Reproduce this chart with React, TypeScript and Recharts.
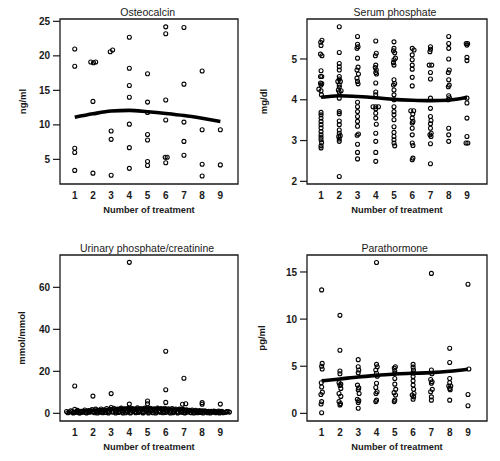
import React from 'react';
import { ComposedChart, Scatter, Line, XAxis, YAxis, ReferenceArea } from 'recharts';

type Pt = [number, number];

const treatments = [1, 2, 3, 4, 5, 6, 7, 8, 9];
const xAxisTitle = 'Number of treatment';

// ---- Osteocalcin (ng/ml)
const osteoTitle = 'Osteocalcin';
const osteoUnit = 'ng/ml';
const osteoTicks = [5, 10, 15, 20, 25];
const osteoPoints: Pt[] = [
  [1, 21.0], [1, 18.5], [1, 6.6], [1, 6.0], [1, 3.4],
  [1.88, 19.1], [2.03, 19.0], [2.15, 19.1], [2, 13.4], [2, 3.0],
  [2.95, 20.6], [3.08, 20.85], [3, 9.1], [3, 7.9], [3, 2.7],
  [4, 22.7], [4, 18.2], [4, 15.7], [4, 14.0], [4, 10.1], [4, 6.7], [4, 3.7],
  [5, 17.4], [5, 13.3], [5, 11.8], [5, 8.6], [5, 7.8], [5, 4.7], [5, 4.1],
  [6, 24.2], [6, 23.2], [6, 13.6], [6, 10.7], [5.97, 5.3], [6.08, 5.3], [6, 4.5],
  [7, 24.1], [7, 15.9], [7, 10.4], [7, 7.6], [7, 5.6],
  [8, 17.8], [8, 9.3], [8, 4.3], [8, 2.6],
  [9, 9.3], [9, 4.2],
];
const osteoTrend = [11.1, 11.6, 12.0, 12.1, 11.9, 11.65, 11.35, 10.95, 10.5];

// ---- Serum phosphate (mg/dl)
const serumTitle = 'Serum phosphate';
const serumUnit = 'mg/dl';
const serumTicks = [2, 3, 4, 5];
const serumPoints: Pt[] = [
  [1.05, 5.46], [0.98, 5.41], [1, 5.33], [0.97, 5.12], [1.05, 5.08], [1, 4.71], [0.97, 4.57], [1.04, 4.57],
  [0.97, 4.41], [1.04, 4.40], [1, 4.36], [0.88, 4.26], [1, 4.22], [1.02, 4.12],
  [1, 3.69], [1, 3.63], [1, 3.55], [1, 3.47], [1, 3.39], [1, 3.31], [1, 3.22], [1, 3.14], [1, 3.08],
  [1, 3.02], [1.03, 2.95], [1, 2.87], [1, 2.82],
  [2, 5.79], [2, 5.16], [2, 4.89], [2, 4.81], [2, 4.73], [2, 4.57], [2, 4.51], [1.92, 4.45], [2.06, 4.45],
  [2, 4.36], [2, 4.31], [1.95, 4.24], [2.1, 4.22], [2, 4.19], [2, 4.04], [2, 3.71], [2, 3.66], [2, 3.48],
  [2, 3.39], [2, 3.26], [2, 3.18], [2.05, 3.12], [1.97, 3.10], [2, 3.04], [2, 2.98], [2, 2.12],
  [3, 5.55], [3, 5.36], [3.03, 5.30], [2.97, 5.26], [3, 5.02], [3.03, 4.80], [2.97, 4.73], [3.05, 4.63],
  [2.97, 4.53], [3, 4.45], [3.03, 4.39], [3, 3.94], [3, 3.83], [3, 3.71], [3, 3.59], [3, 3.47], [3, 3.35],
  [3.05, 3.16], [2.98, 3.13], [3, 2.91], [3, 2.71], [3, 2.55],
  [4, 5.44], [4.03, 5.14], [3.98, 5.08], [4, 4.85], [3.97, 4.79], [4.03, 4.73], [4, 4.67], [4.04, 4.63],
  [4, 4.41], [4, 4.19], [4, 4.12], [3.85, 3.83], [4, 3.83], [4.15, 3.83], [4, 3.78], [4, 3.67], [4, 3.55],
  [4.03, 3.40], [4, 3.18], [4, 2.98], [4, 2.71], [4, 2.49],
  [5, 5.42], [5, 5.26], [4.97, 5.20], [5.04, 5.15], [5.08, 5.02], [5, 4.98], [4.97, 4.91], [5, 4.85],
  [5, 4.49], [5.04, 4.40], [4.97, 4.36], [5, 4.24], [5, 4.12], [5, 4.0], [5, 3.83], [5, 3.71], [5, 3.63],
  [5, 3.51], [5, 3.34], [5, 3.20], [5, 3.10], [5, 3.02], [5, 2.94], [5.04, 2.87],
  [6, 5.26], [6.1, 5.22], [6, 5.10], [6, 4.98], [6, 4.85], [6, 4.75], [6, 4.55], [6, 4.34], [5.92, 3.73],
  [6.08, 3.73], [6.03, 3.65], [6, 3.55], [6.04, 3.47], [6, 3.43], [6, 3.30], [6, 3.14], [6, 2.94], [6.04, 2.88],
  [6.04, 2.57], [6, 2.53],
  [7, 5.30], [7, 5.24], [6.97, 5.18], [6.93, 4.85], [7.07, 4.85], [7, 4.67], [7, 4.51], [7, 4.04], [7, 3.79],
  [7, 3.59], [7.03, 3.49], [7, 3.41], [7, 3.30], [7.04, 3.18], [6.97, 3.14], [7.03, 3.10], [7, 2.92], [7, 2.43],
  [8, 5.55], [8, 5.38], [8, 5.26], [8, 5.0], [8.03, 4.73], [7.98, 4.67], [8, 4.49], [8.03, 4.36], [7.98, 4.32],
  [8, 4.10], [8.04, 4.05], [7.97, 4.0], [8, 3.30], [8, 3.14], [8, 2.98],
  [8.96, 5.38], [9.04, 5.38], [9, 5.34], [9, 5.04], [9, 4.96], [9, 4.04], [9, 3.92], [9, 3.55], [9, 3.10],
  [8.95, 2.94], [9.05, 2.94],
];
const serumTrend = [4.06, 4.10, 4.08, 4.05, 4.01, 3.99, 3.98, 3.99, 4.06];

// ---- Urinary phosphate/creatinine (mmol/mmol)
const urinaryTitle = 'Urinary phosphate/creatinine';
const urinaryUnit = 'mmol/mmol';
const urinaryTicks = [0, 20, 40, 60];
const urinaryOutliers: Pt[] = [
  [1, 13.0], [1, 1.9], [2, 8.2], [3, 9.4], [3, 2.8], [4, 71.9], [4, 4.4], [5, 5.9], [5, 4.6],
  [6, 29.6], [6, 11.2], [6, 5.2], [7, 16.7], [6.92, 4.3], [7.1, 4.6], [8, 5.1], [8, 4.3], [9, 4.4],
];
const urinaryLowA: Pt[] = [
  [0.55, 0.9], [0.7, 0.6], [0.85, 0.8], [0.95, 0.4], [1.1, 0.5], [1.2, 0.9], [1.3, 0.3], [1.4, 0.7],
  [1.5, 1.1], [1.6, 0.4], [1.7, 0.8], [1.8, 0.5], [1.9, 1.2], [2.0, 0.6], [2.1, 0.3], [2.2, 0.9],
  [2.3, 1.4], [2.4, 0.5], [2.5, 0.8], [2.6, 1.6], [2.7, 0.4], [2.8, 1.0], [2.9, 0.7], [3.1, 0.5],
  [3.2, 1.3], [3.3, 0.9], [3.4, 0.4], [3.5, 1.7], [3.6, 0.6], [3.7, 1.1], [3.8, 0.3], [3.9, 0.8],
  [4.0, 1.5], [4.1, 0.5], [4.2, 1.0], [4.3, 0.7], [4.4, 1.9], [4.5, 0.4], [4.6, 1.2], [4.7, 0.8],
  [4.8, 0.5], [4.9, 1.6], [5.0, 2.2], [5.1, 0.6], [5.2, 1.0], [5.3, 0.3], [5.4, 1.4], [5.5, 0.7],
  [5.6, 1.1], [5.7, 0.5], [5.8, 1.8], [5.9, 0.9], [6.0, 0.4], [6.1, 1.3], [6.2, 0.6], [6.3, 1.0],
  [6.4, 0.3], [6.5, 1.5], [6.6, 0.7], [6.7, 0.5], [6.8, 1.2], [6.9, 0.8], [7.0, 0.4], [7.1, 1.0],
  [7.2, 0.6], [7.3, 1.4], [7.4, 0.3], [7.5, 0.9], [7.6, 0.5], [7.7, 1.1], [7.8, 0.7], [7.9, 0.4],
  [8.0, 1.2], [8.1, 0.6], [8.2, 0.9], [8.3, 0.3], [8.4, 0.7], [8.5, 1.0], [8.6, 0.5], [8.7, 0.8],
  [8.8, 0.4], [8.9, 1.1], [9.0, 0.6], [9.1, 0.9], [9.2, 0.4], [9.35, 0.8], [9.5, 0.6],
];
const urinaryLowB: Pt[] = [
  [0.62, 0.3], [0.78, 1.2], [0.92, 0.2], [1.02, 0.6], [1.15, 1.4], [1.25, 0.2], [1.35, 1.0], [1.45, 0.5],
  [1.55, 1.6], [1.65, 0.2], [1.75, 1.3], [1.85, 0.8], [1.95, 1.8], [2.05, 1.0], [2.15, 2.0], [2.25, 0.2],
  [2.35, 0.7], [2.45, 2.1], [2.55, 0.3], [2.65, 1.2], [2.75, 2.3], [2.85, 0.2], [2.95, 1.9], [3.05, 1.0],
  [3.15, 2.4], [3.25, 0.2], [3.35, 2.0], [3.45, 0.8], [3.55, 2.5], [3.65, 0.2], [3.75, 2.2], [3.85, 1.2],
  [3.95, 2.5], [4.05, 0.2], [4.15, 2.3], [4.25, 1.6], [4.35, 0.3], [4.45, 2.6], [4.55, 0.9], [4.65, 2.2],
  [4.75, 0.2], [4.85, 2.5], [4.95, 1.0], [5.05, 0.2], [5.15, 2.4], [5.25, 1.5], [5.35, 2.1], [5.45, 0.2],
  [5.55, 2.5], [5.65, 0.8], [5.75, 2.3], [5.85, 0.3], [5.95, 2.4], [6.05, 1.0], [6.15, 2.2], [6.25, 0.2],
  [6.35, 2.3], [6.45, 0.9], [6.55, 2.1], [6.65, 0.2], [6.75, 2.0], [6.85, 0.5], [6.95, 1.9], [7.05, 0.2],
  [7.15, 1.7], [7.25, 1.0], [7.35, 0.5], [7.45, 1.6], [7.55, 0.2], [7.65, 1.5], [7.75, 0.3], [7.85, 1.3],
  [7.95, 0.8], [8.05, 0.2], [8.15, 1.2], [8.25, 0.6], [8.35, 1.0], [8.45, 0.2], [8.55, 0.8], [8.65, 1.1],
  [8.75, 0.3], [8.85, 0.7], [8.95, 0.2], [9.05, 1.0], [9.15, 0.3], [9.3, 0.5], [9.42, 0.9],
];
const urinaryPoints: Pt[] = [...urinaryOutliers, ...urinaryLowA, ...urinaryLowB];
const urinaryTrend = [0.9, 1.5, 2.1, 2.4, 2.4, 2.2, 1.8, 1.2, 0.8];

// ---- Parathormone (pg/ml)
const pthTitle = 'Parathormone';
const pthUnit = 'pg/ml';
const pthTicks = [0, 5, 10, 15];
const pthPoints: Pt[] = [
  [1, 13.1], [1.03, 5.3], [1, 5.0], [1.03, 4.7], [0.98, 3.25], [1, 2.8], [1.04, 2.25], [0.96, 2.0],
  [1, 1.25], [0.97, 1.0], [1, 0.07],
  [2, 10.4], [2, 6.7], [2, 4.5], [2, 4.2], [1.95, 3.25], [2.05, 3.1], [2, 2.95], [2.05, 2.65], [1.95, 2.1],
  [2.05, 1.8], [1.95, 1.25], [2.03, 1.05], [2, 0.9],
  [3, 5.7], [3, 4.95], [3.03, 4.6], [3, 4.3], [2.96, 3.0], [3.03, 2.7], [3, 2.5], [3.05, 2.1], [2.95, 1.5],
  [3.03, 1.35], [3, 1.15], [3, 0.55],
  [4, 16.0], [4, 5.2], [4.04, 4.95], [3.96, 4.6], [4, 4.25], [4.04, 3.95], [4, 3.2], [3.96, 2.75],
  [4.03, 2.3], [3.97, 2.1], [4, 1.4], [3.96, 1.25],
  [5.03, 4.95], [4.97, 4.8], [5, 4.5], [5, 4.25], [5, 3.7], [5, 3.1], [5.05, 2.55], [4.96, 2.2],
  [5.04, 1.95], [5, 1.4], [4.97, 1.25],
  [6, 5.2], [6, 4.9], [6.02, 4.6], [6, 4.3], [6, 3.9], [6, 3.45], [6, 3.0], [6.03, 2.55], [6.05, 2.1],
  [5.95, 1.95], [6.03, 1.75], [6, 1.5],
  [7, 14.85], [7, 4.6], [7.03, 4.2], [6.96, 3.6], [7.04, 3.35], [7, 3.2], [7.05, 2.55], [6.96, 2.3],
  [7, 1.75], [7, 1.4],
  [8, 6.9], [8, 5.4], [8, 3.7], [8, 3.25], [7.95, 2.9], [8.06, 2.9], [8, 2.65], [8.03, 2.5], [8, 1.4],
  [9, 13.7], [9.05, 4.7], [9, 2.0], [9, 0.8],
];
const pthTrend = [3.45, 3.65, 3.86, 4.03, 4.18, 4.25, 4.32, 4.46, 4.68];

const FONT = "'Liberation Sans', Arial, Helvetica, sans-serif";
const INK = '#1a1a1a';

const Ring = (props: any) => {
  if (props.cx == null || props.cy == null) return null;
  return <circle cx={props.cx} cy={props.cy} r={2} fill="none" stroke="#000" strokeWidth={1.1} />;
};

interface PanelProps {
  left: number;
  top: number;
  margin: { top: number; right: number; bottom: number; left: number };
  xDomain: [number, number];
  yDomain: [number, number];
  yTicks: number[];
  points: Pt[];
  trend: number[];
  title: string;
  titleX: number;
  titleY: number;
  unit: string;
  unitX: number;
}

function Panel(p: PanelProps) {
  const W = 250;
  const H = 230;
  const X_AXIS_H = 30;
  const Y_AXIS_W = 40;
  const scatterData = p.points.map(([x, y]) => ({ x, y }));
  const trendData = treatments.map((t, i) => ({ x: t, y: p.trend[i] }));
  const plotLeft = p.margin.left + Y_AXIS_W;
  const plotRight = W - p.margin.right;
  const plotTop = p.margin.top;
  const plotBottom = H - p.margin.bottom - X_AXIS_H;
  const cx = (plotLeft + plotRight) / 2;
  const cy = (plotTop + plotBottom) / 2;
  return (
    <div style={{ position: 'absolute', left: p.left, top: p.top, width: W, height: H }}>
      <ComposedChart width={W} height={H} margin={p.margin}>
        <XAxis
          type="number"
          dataKey="x"
          domain={p.xDomain}
          allowDataOverflow
          ticks={treatments}
          interval={0}
          tickLine={false}
          axisLine={false}
          tickSize={0}
          tickMargin={8}
          height={X_AXIS_H}
          tick={{ fontSize: 10, fill: INK, fontFamily: FONT, fontWeight: 'bold' }}
        />
        <YAxis
          type="number"
          dataKey="y"
          domain={p.yDomain}
          allowDataOverflow
          ticks={p.yTicks}
          interval={0}
          width={Y_AXIS_W}
          axisLine={false}
          tickLine={{ stroke: INK, strokeWidth: 1.2 }}
          tickSize={7}
          tickMargin={3}
          tick={{ fontSize: 10, fill: INK, fontFamily: FONT, fontWeight: 'bold' }}
        />
        <ReferenceArea
          x1={p.xDomain[0]}
          x2={p.xDomain[1]}
          y1={p.yDomain[0]}
          y2={p.yDomain[1]}
          fill="none"
          fillOpacity={0}
          stroke={INK}
          strokeWidth={1.3}
          ifOverflow="visible"
        />
        <Scatter data={scatterData} dataKey="y" shape={Ring} isAnimationActive={false} />
        <Line
          data={trendData}
          dataKey="y"
          type="monotone"
          stroke="#000"
          strokeWidth={3.6}
          dot={false}
          activeDot={false}
          isAnimationActive={false}
        />
        <text x={p.titleX} y={p.titleY} textAnchor="middle" dominantBaseline="central" fontSize={10.5} fontFamily={FONT} fill={INK}>
          {p.title}
        </text>
        <text x={cx} y={plotBottom + 25.5} textAnchor="middle" dominantBaseline="central" fontSize={9.3} fontWeight="bold" fontFamily={FONT} fill={INK}>
          {xAxisTitle}
        </text>
        <text
          x={p.unitX}
          y={cy}
          transform={`rotate(-90 ${p.unitX} ${cy})`}
          textAnchor="middle"
          dominantBaseline="central"
          fontSize={9.5}
          fontWeight="bold"
          fontFamily={FONT}
          fill={INK}
        >
          {p.unit}
        </text>
      </ComposedChart>
    </div>
  );
}

export default function App() {
  return (
    <div style={{ position: 'absolute', left: 0, top: 0, width: 500, height: 461, background: '#fff' }}>
      <Panel
        left={0}
        top={0}
        margin={{ top: 19, right: 12, bottom: 16, left: 20 }}
        xDomain={[0.19, 9.97]}
        yDomain={[1.43, 25.34]}
        yTicks={osteoTicks}
        points={osteoPoints}
        trend={osteoTrend}
        title={osteoTitle}
        titleX={147.7}
        titleY={11.7}
        unit={osteoUnit}
        unitX={22}
      />
      <Panel
        left={250}
        top={0}
        margin={{ top: 19, right: 13, bottom: 16, left: 17 }}
        xDomain={[0.23, 10.1]}
        yDomain={[1.935, 5.98]}
        yTicks={serumTicks}
        points={serumPoints}
        trend={serumTrend}
        title={serumTitle}
        titleX={145}
        titleY={12}
        unit={serumUnit}
        unitX={13.3}
      />
      <Panel
        left={0}
        top={230}
        margin={{ top: 25, right: 12, bottom: 9, left: 20 }}
        xDomain={[0.19, 9.97]}
        yDomain={[-3.65, 75.4]}
        yTicks={urinaryTicks}
        points={urinaryPoints}
        trend={urinaryTrend}
        title={urinaryTitle}
        titleX={147}
        titleY={18.3}
        unit={urinaryUnit}
        unitX={21.7}
      />
      <Panel
        left={250}
        top={230}
        margin={{ top: 25, right: 13, bottom: 9, left: 17 }}
        xDomain={[0.2, 10.04]}
        yDomain={[-0.81, 16.8]}
        yTicks={pthTicks}
        points={pthPoints}
        trend={pthTrend}
        title={pthTitle}
        titleX={144.7}
        titleY={18.3}
        unit={pthUnit}
        unitX={11.7}
      />
    </div>
  );
}
